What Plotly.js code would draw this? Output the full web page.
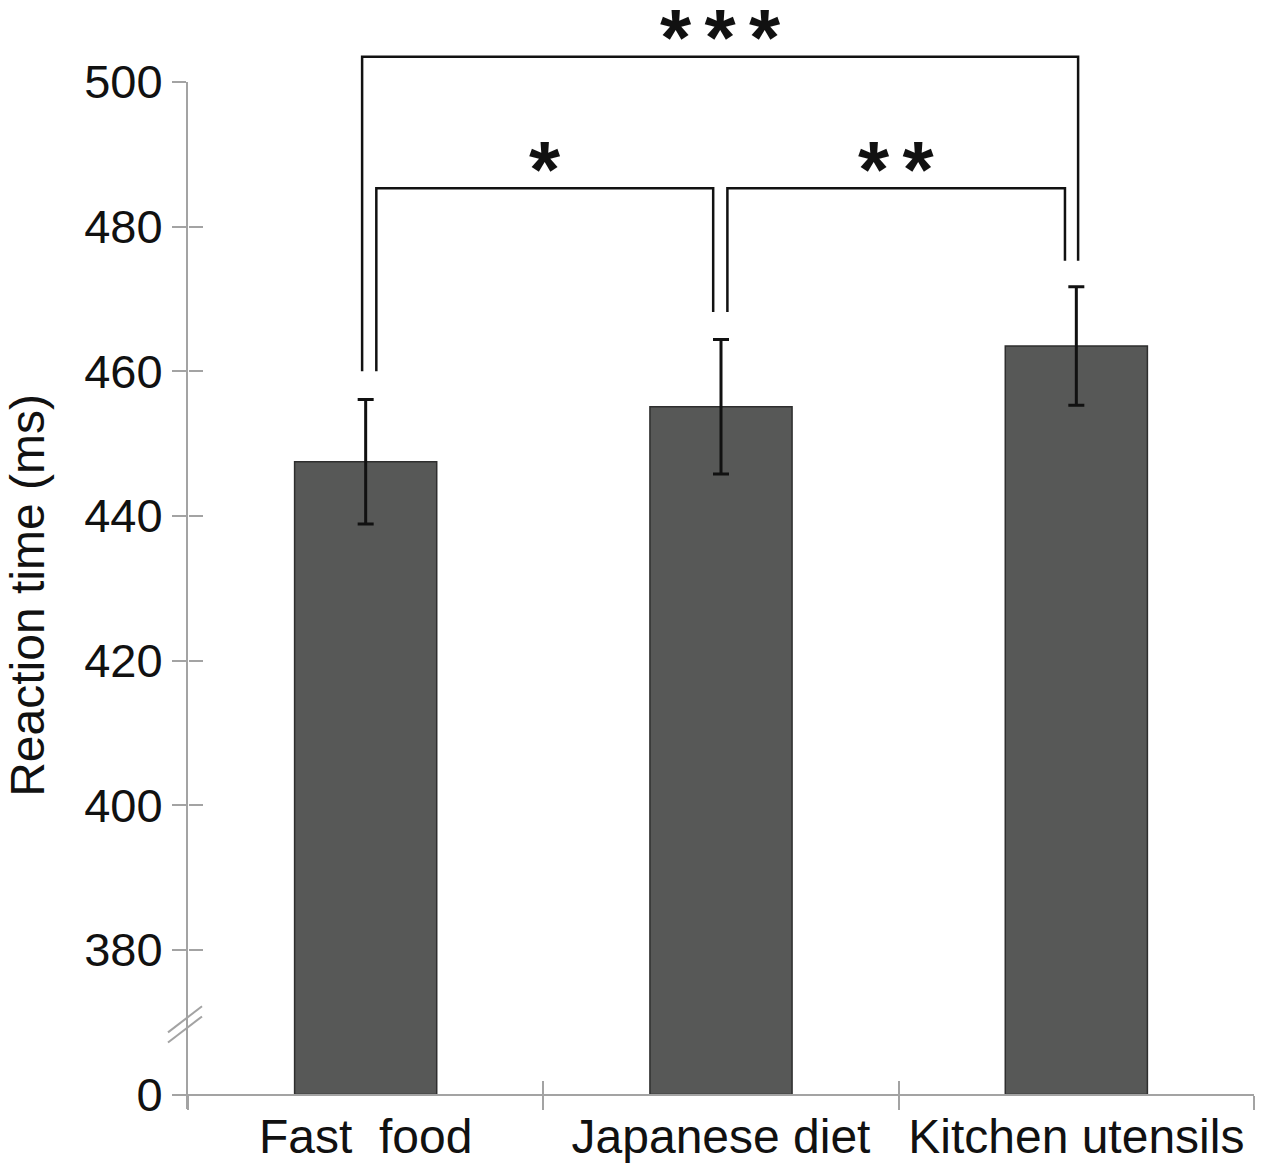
<!DOCTYPE html>
<html>
<head>
<meta charset="utf-8">
<script src="https://cdn.plot.ly/plotly-3.0.1.min.js"></script>
<style>body{margin:0;background:#fff}</style>
</head>
<body>
<div id="chart" style="width:1264px;height:1171px"></div>
<script>
// reaction times per image category (ms)
const categories = ['Fast\u00a0 food', 'Japanese diet', 'Kitchen utensils'];
const meanRT = [447.5, 455.1, 463.5];
const errRT = [8.6, 9.3, 8.2];

// broken y axis: the bottom tick stands for 0
const yTickVals = [360, 380, 400, 420, 440, 460, 480, 500];
const yTickText = ['0', '380', '400', '420', '440', '460', '480', '500'];
const axisBase = 360;

// significance brackets
const sigFrom = [0, 0, 1];
const sigTo = [2, 1, 2];
const sigLabel = ['***', '*', '**'];

const Y0 = 358, Y1 = 500;
const GRAY = '#a3a3a3';
const FONT = '"Liberation Sans", Arial, Helvetica, sans-serif';

// bracket geometry (ms for heights, category units for leg offsets)
const bracketTop = [503.5, 485.3, 485.3];
const legFrom = [460, 460, 468.2];
const legTo = [475.3, 468.2, 475.3];
const offFrom = [-0.01, 0.03, 0.018];
const offTo = [0.005, -0.022, -0.032];

const py = v => (v - Y0) / (Y1 - Y0);
const px = c => (c + 0.5) / categories.length;

const shapes = [];
const annotations = [];
sigFrom.forEach((a, i) => {
  const b = sigTo[i];
  const xa = px(a + offFrom[i]), xb = px(b + offTo[i]);
  shapes.push({
    type: 'path', xref: 'paper', yref: 'paper',
    path: `M ${xa},${py(legFrom[i])} L ${xa},${py(bracketTop[i])} L ${xb},${py(bracketTop[i])} L ${xb},${py(legTo[i])}`,
    line: {color: '#111', width: 2.5}
  });
  annotations.push({
    xref: 'paper', yref: 'paper',
    x: (xa + xb) / 2, y: py(bracketTop[i]),
    yanchor: 'middle', yshift: 19,
    text: sigLabel[i].split('').join('\u2006'), showarrow: false,
    font: {family: FONT, size: 80, color: '#111', weight: 'bold'}
  });
});

// axis break marks
[[368.6, 372.2], [367.2, 370.8]].forEach(([a, b]) => {
  shapes.push({
    type: 'line', xref: 'paper', yref: 'y', xsizemode: 'pixel', xanchor: 0,
    x0: -20, x1: 14, y0: a, y1: b,
    line: {color: GRAY, width: 2}
  });
});

const bars = {
  type: 'bar',
  x: categories.map((_, i) => i),
  y: meanRT.map(v => v - axisBase),
  base: axisBase,
  width: 0.4,
  marker: {color: '#575857', line: {color: '#2e2e2e', width: 1.5}},
  error_y: {type: 'data', array: errRT, color: '#111', thickness: 3, width: 8},
  hoverinfo: 'skip'
};
const dummy = {type: 'scatter', x: [], y: [], xaxis: 'x2', yaxis: 'y2', hoverinfo: 'skip', showlegend: false};

const xPos = py(axisBase);
const layout = {
  width: 1264, height: 1171,
  margin: {l: 188, r: 10, t: 82, b: 62},
  paper_bgcolor: 'white', plot_bgcolor: 'white',
  showlegend: false,
  font: {family: FONT, size: 47, color: '#111'},
  xaxis: {
    range: [-0.5, 2.5], anchor: 'free', position: xPos,
    tickvals: categories.map((_, i) => i), ticktext: categories,
    ticks: '', showgrid: false, zeroline: false,
    showline: true, linecolor: GRAY, linewidth: 2,
    minor: {tickvals: [-0.5, 0.5, 1.5, 2.5], ticks: 'outside', ticklen: 14, tickwidth: 2, tickcolor: GRAY, showgrid: false},
    tickfont: {size: 48}
  },
  xaxis2: {
    range: [-0.5, 2.5], overlaying: 'x', anchor: 'free', position: xPos,
    tickvals: [-0.5, 0.5, 1.5, 2.5], ticks: 'inside', ticklen: 14, tickwidth: 2, tickcolor: GRAY,
    showticklabels: false, showgrid: false, zeroline: false, showline: false
  },
  yaxis: {
    range: [Y0, Y1],
    tickvals: yTickVals, ticktext: yTickText,
    ticks: 'outside', ticklen: 14, tickwidth: 2, tickcolor: GRAY,
    showgrid: false, zeroline: false,
    showline: true, linecolor: GRAY, linewidth: 2,
    title: {text: 'Reaction time (ms)', font: {size: 48}, standoff: 24}
  },
  yaxis2: {
    range: [Y0, Y1], overlaying: 'y', anchor: 'free', position: 0, side: 'left',
    tickvals: yTickVals, ticks: 'inside', ticklen: 14, tickwidth: 2, tickcolor: GRAY,
    showticklabels: false, showgrid: false, zeroline: false, showline: false
  },
  shapes: shapes,
  annotations: annotations
};

Plotly.newPlot('chart', [bars, dummy], layout, {displayModeBar: false, staticPlot: true});
</script>
</body>
</html>
